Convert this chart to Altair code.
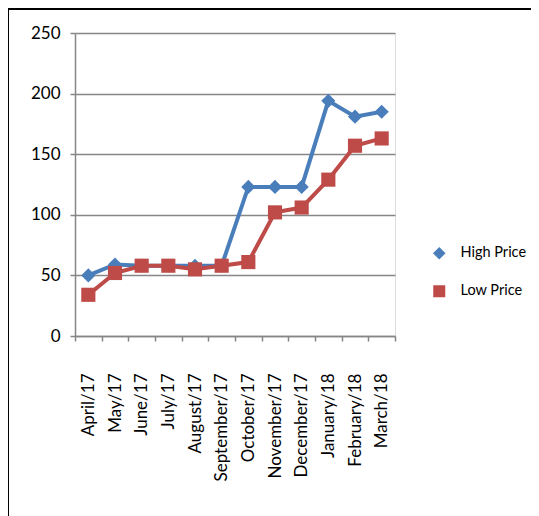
import altair as alt
import pandas as pd

months = ["April/17", "May/17", "June/17", "July/17", "August/17", "September/17",
          "October/17", "November/17", "December/17", "January/18", "February/18", "March/18"]
high_price = [50, 59, 58, 58, 58, 58, 123, 123, 123, 194, 181, 185]
low_price = [34, 52, 58, 58, 55, 58, 61, 102, 106, 129, 157, 163]
series = ["High Price", "Low Price"]
y_ticks = [0, 50, 100, 150, 200, 250]

rows = []
for i, m in enumerate(months):
    rows.append({"Month": m, "Series": series[0], "Price": high_price[i]})
    rows.append({"Month": m, "Series": series[1], "Price": low_price[i]})
df = pd.DataFrame(rows)

FONT = "Lato"
colors = ["#4A7EBB", "#BE4B48"]

x_enc = alt.X("Month:N", sort=months, title=None,
              scale=alt.Scale(paddingInner=0, paddingOuter=0),
              axis=alt.Axis(labelAngle=-90, labelAlign="right", labelBaseline="middle",
                            labelPadding=32, tickSize=5, tickBand="extent",
                            domainColor="#868686", tickColor="#868686", domainWidth=1.5,
                            tickWidth=1.5, labelFontSize=17, labelColor="#000000",
                            grid=False))
y_enc = alt.Y("Price:Q", title=None,
              scale=alt.Scale(domain=[0, 250], nice=False),
              axis=alt.Axis(values=y_ticks, tickSize=5, labelPadding=10,
                            domainColor="#868686", tickColor="#868686", domainWidth=1.5,
                            tickWidth=1.5, gridColor="#868686", gridWidth=1.5,
                            labelFontSize=17, labelColor="#000000"))
legend = alt.Legend(title=None, orient="none", legendX=357, legendY=213,
                    labelFontSize=14.5, labelColor="#000000", symbolSize=110,
                    rowPadding=21, labelOffset=14)
color_enc = alt.Color("Series:N", scale=alt.Scale(domain=series, range=colors), legend=legend)
shape_enc = alt.Shape("Series:N", scale=alt.Scale(domain=series, range=["diamond", "square"]), legend=legend)

points = alt.Chart(df).mark_point(filled=True, opacity=1, size=200).encode(
    x=x_enc, y=y_enc, color=color_enc, shape=shape_enc,
)
lines = alt.Chart(df).mark_line(strokeWidth=4).encode(
    x=x_enc, y=y_enc, color=color_enc,
)
frame = alt.Chart(df).mark_rect(fill=None, stroke="#000000", strokeWidth=1.5, clip=False).encode(
    x=alt.value(-67), x2=alt.value(600), y=alt.value(-24), y2=alt.value(600)
)

chart = alt.layer(frame, lines, points).properties(
    width=320, height=303,
    autosize=alt.AutoSizeParams(type="none"),
    padding={"left": 67, "top": 25, "right": 136, "bottom": 180},
).configure_view(stroke=None).configure(font=FONT).configure_axis(labelFont=FONT).configure_legend(labelFont=FONT)

chart.save("out.html", embed_options={"renderer": "svg", "actions": False})
